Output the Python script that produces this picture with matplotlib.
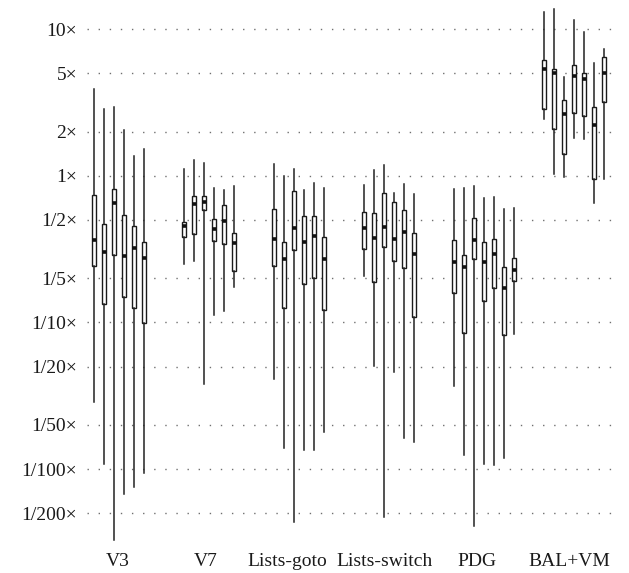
import numpy as np
import matplotlib
matplotlib.use('Agg')
import matplotlib.pyplot as plt

# Speed ratios, one list per group (one value per box)
groups = ['V3', 'V7', 'Lists-goto', 'Lists-switch', 'PDG', 'BAL+VM']

whishi = [
    [3.89, 2.85, 2.92, 2.06, 1.37, 1.52],
    [1.11, 1.28, 1.22, 0.818, 0.802, 0.853],
    [1.21, 0.993, 1.11, 0.802, 0.885, 0.826],
    [0.867, 1.10, 1.18, 0.760, 0.875, 0.756],
    [0.811, 0.820, 0.855, 0.700, 0.720, 0.589, 0.598],
    [13.0, 13.7, 4.71, 11.5, 9.49, 5.83, 7.31],
]
q3 = [
    [0.744, 0.467, 0.813, 0.541, 0.455, 0.352],
    [0.484, 0.725, 0.725, 0.508, 0.630, 0.406],
    [0.591, 0.356, 0.789, 0.532, 0.532, 0.380],
    [0.564, 0.555, 0.760, 0.664, 0.582, 0.404],
    [0.364, 0.286, 0.514, 0.351, 0.370, 0.240, 0.275],
    [6.15, 5.37, 3.30, 5.71, 4.99, 2.95, 6.41],
]
med = [
    [0.363, 0.301, 0.653, 0.284, 0.324, 0.275],
    [0.455, 0.637, 0.667, 0.430, 0.494, 0.345],
    [0.371, 0.269, 0.443, 0.354, 0.391, 0.271],
    [0.439, 0.375, 0.446, 0.371, 0.412, 0.293],
    [0.259, 0.240, 0.364, 0.257, 0.294, 0.171, 0.228],
    [5.31, 4.99, 2.65, 4.81, 4.54, 2.21, 5.03],
]
q1 = [
    [0.242, 0.134, 0.286, 0.149, 0.125, 0.0986],
    [0.381, 0.402, 0.582, 0.358, 0.341, 0.223],
    [0.242, 0.126, 0.310, 0.182, 0.200, 0.122],
    [0.317, 0.188, 0.327, 0.264, 0.234, 0.108],
    [0.159, 0.0851, 0.269, 0.140, 0.171, 0.0820, 0.192],
    [2.85, 2.09, 1.41, 2.66, 2.55, 0.954, 3.16],
]
whislo = [
    [0.0286, 0.0109, 0.00326, 0.00678, 0.00752, 0.00937],
    [0.249, 0.261, 0.0381, 0.112, 0.120, 0.173],
    [0.0412, 0.0140, 0.00434, 0.0135, 0.0135, 0.0180],
    [0.206, 0.0506, 0.00469, 0.0457, 0.0162, 0.0154],
    [0.0368, 0.0125, 0.00410, 0.0108, 0.0106, 0.0119, 0.0828],
    [2.43, 1.02, 0.975, 1.82, 1.77, 0.655, 0.944],
]

ytick_vals = [10, 5, 2, 1, 0.5, 0.2, 0.1, 0.05, 0.02, 0.01, 0.005]
ytick_labels = ['10×', '5×', '2×', '1×', '1/2×', '1/5×', '1/10×',
                '1/20×', '1/50×', '1/100×', '1/200×']

# layout: 9 slots per group, label nudges to keep the long names apart
group_step = 9
label_shift = [-0.1, -0.3, -1.2, -0.4, -0.2, 0.0]

plt.rcParams['font.family'] = ['Liberation Serif', 'DejaVu Serif']

fig = plt.figure(figsize=(6.29, 5.73), dpi=100)
ax = fig.add_axes([87 / 629, 27 / 573, 525 / 629, 544 / 573])

stats = []
positions = []
for g in range(len(groups)):
    for i in range(len(med[g])):
        stats.append(dict(med=med[g][i], q1=q1[g][i], q3=q3[g][i],
                          whislo=whislo[g][i], whishi=whishi[g][i], fliers=[]))
        positions.append(g * group_step + i)

ax.bxp(stats, positions=positions, widths=0.45, showcaps=False,
       showfliers=False, patch_artist=True,
       boxprops=dict(facecolor='white', edgecolor='#1a1a1a', linewidth=1.0),
       whiskerprops=dict(color='#222222', linewidth=1.1),
       medianprops=dict(color='#111111', linewidth=2.6, solid_capstyle='butt'))

ax.set_yscale('log')
ax.set_ylim(0.00299, 15.28)
ax.set_xlim(-0.7, 51.8)
ax.minorticks_off()
ax.set_yticks(ytick_vals)
ax.set_yticklabels(ytick_labels)

centers = [g * group_step + 2.5 + s for g, s in enumerate(label_shift)]
ax.set_xticks(centers)
ax.set_xticklabels(groups)

ax.tick_params(axis='both', length=0, labelsize=14, colors='#1a1a1a')
ax.tick_params(axis='y', pad=7)
ax.tick_params(axis='x', pad=5)

ax.yaxis.grid(True, color='#707070', linewidth=1.0, linestyle=(0, (1, 7)))
ax.set_axisbelow(True)
for s in ax.spines.values():
    s.set_visible(False)

fig.savefig('out.png', dpi=100)
